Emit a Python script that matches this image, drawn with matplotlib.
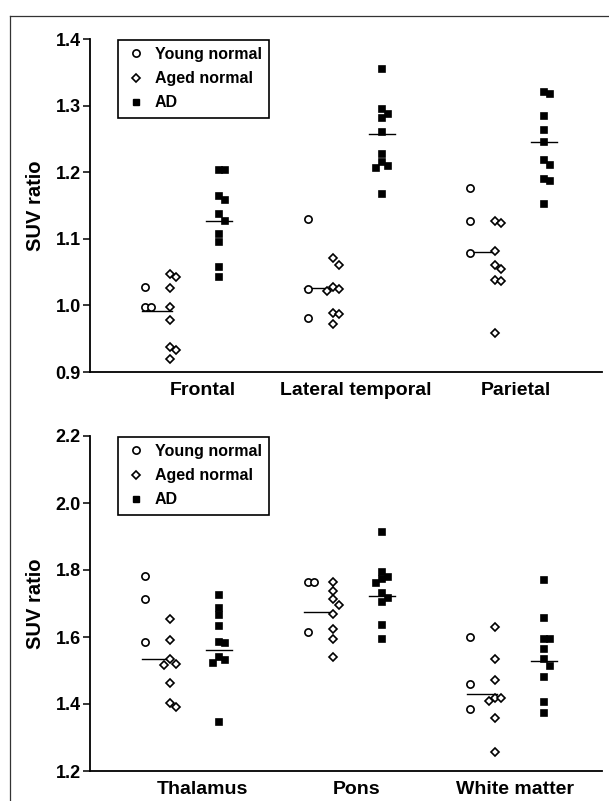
import matplotlib
matplotlib.use('Agg')
import matplotlib.pyplot as plt
from matplotlib.lines import Line2D

plt.rcParams['font.family'] = ['Liberation Sans', 'DejaVu Sans']
plt.rcParams['font.weight'] = 'bold'

# Cortical regions (top panel)
top_regions = ['Frontal', 'Lateral temporal', 'Parietal']
young_top = [[1.028, 0.998, 0.998],
             [1.129, 1.025, 0.981],
             [1.176, 1.126, 1.079]]
aged_top = [[1.047, 1.043, 1.026, 0.998, 0.978, 0.938, 0.933, 0.919],
            [1.071, 1.061, 1.027, 1.025, 1.022, 0.988, 0.987, 0.972],
            [1.127, 1.124, 1.082, 1.061, 1.055, 1.038, 1.036, 0.958]]
ad_top = [[1.203, 1.203, 1.165, 1.159, 1.137, 1.127, 1.107, 1.095, 1.057, 1.042],
          [1.355, 1.295, 1.288, 1.282, 1.261, 1.227, 1.216, 1.209, 1.206, 1.167],
          [1.321, 1.317, 1.285, 1.263, 1.246, 1.219, 1.211, 1.190, 1.187, 1.152]]
normal_line_top = [0.991, 1.026, 1.080]
ad_line_top = [1.126, 1.257, 1.246]

# Reference regions (bottom panel)
bot_regions = ['Thalamus', 'Pons', 'White matter']
young_bot = [[1.782, 1.713, 1.586],
             [1.763, 1.763, 1.616],
             [1.601, 1.460, 1.384]]
aged_bot = [[1.654, 1.591, 1.533, 1.519, 1.516, 1.462, 1.404, 1.392],
            [1.763, 1.737, 1.713, 1.696, 1.668, 1.623, 1.593, 1.541],
            [1.631, 1.534, 1.472, 1.419, 1.419, 1.409, 1.359, 1.256]]
ad_bot = [[1.725, 1.687, 1.666, 1.634, 1.586, 1.583, 1.541, 1.531, 1.521, 1.347],
          [1.914, 1.795, 1.778, 1.772, 1.760, 1.732, 1.717, 1.705, 1.636, 1.594],
          [1.770, 1.658, 1.594, 1.593, 1.564, 1.533, 1.513, 1.481, 1.405, 1.372]]
normal_line_bot = [1.533, 1.675, 1.429]
ad_line_bot = [1.561, 1.722, 1.529]

W, H = 609, 801
PX_PER_UNIT = 162.5          # horizontal pixels per region
AGED_OFF = 25 / PX_PER_UNIT
AD_OFF = 74 / PX_PER_UNIT
LABEL_OFF = [0.355, 0.30, 0.28]


def dodge(values, px_y, step_px=6.0, size_px=7.0):
    # shift markers sideways when they would sit on top of each other
    order = sorted(range(len(values)), key=lambda i: -values[i])
    placed = []
    offs = [0.0] * len(values)
    for i in order:
        for k in [0, 1, -1, 2, -2, 3]:
            if all(not (k == kk and abs(values[i] - v) * px_y < size_px) for kk, v in placed):
                placed.append((k, values[i]))
                offs[i] = k * step_px / PX_PER_UNIT
                break
    return offs


def draw_panel(ax, regions, young, aged, ad, nline, adline, ylim, yticks):
    ax.set_xlim((90 - 145) / PX_PER_UNIT, (602 - 145) / PX_PER_UNIT)
    ax.set_ylim(*ylim)
    px_y = ax.bbox.height / (ylim[1] - ylim[0])
    mk = dict(linestyle='none', markeredgecolor='black', markeredgewidth=1.2, clip_on=False)
    for i in range(len(regions)):
        xs = [i + o for o in dodge(young[i], px_y)]
        ax.plot(xs, young[i], marker='o', markersize=5.2, markerfacecolor='white', zorder=3, **mk)
        xs = [i + AGED_OFF + o for o in dodge(aged[i], px_y)]
        ax.plot(xs, aged[i], marker='D', markersize=4.2, markerfacecolor='white', zorder=3, **mk)
        xs = [i + AD_OFF + o for o in dodge(ad[i], px_y)]
        ax.plot(xs, ad[i], marker='s', markersize=5.0, markerfacecolor='black', zorder=3, **mk)
        ax.plot([i - 0.02, i + AGED_OFF + 0.01], [nline[i]] * 2, color='black', lw=1.0, zorder=2)
        ax.plot([i + AD_OFF - 0.08, i + AD_OFF + 0.08], [adline[i]] * 2, color='black', lw=1.0, zorder=2)

    ax.set_xticks([i + LABEL_OFF[i] for i in range(len(regions))])
    ax.set_xticklabels(regions, fontsize=14, fontweight='bold')
    ax.tick_params(axis='x', length=0, pad=7)
    ax.set_yticks(yticks)
    ax.set_yticklabels(['%.1f' % t for t in yticks], fontsize=13, fontweight='bold')
    ax.tick_params(axis='y', length=5, width=1.1, pad=1.5)
    for s in ['top', 'right']:
        ax.spines[s].set_visible(False)
    for s in ['left', 'bottom']:
        ax.spines[s].set_linewidth(1.3)
    ax.set_ylabel('SUV ratio', fontsize=14.5, fontweight='bold')
    ax.yaxis.set_label_coords(-0.088, 0.5)

    handles = [
        Line2D([], [], linestyle='none', marker='o', markersize=5.2, markerfacecolor='white',
               markeredgecolor='black', markeredgewidth=1.2),
        Line2D([], [], linestyle='none', marker='D', markersize=4.2, markerfacecolor='white',
               markeredgecolor='black', markeredgewidth=1.2),
        Line2D([], [], linestyle='none', marker='s', markersize=5.0, markerfacecolor='black',
               markeredgecolor='black'),
    ]
    leg = ax.legend(handles, ['Young normal', 'Aged normal', 'AD'],
                    loc='upper left', bbox_to_anchor=(28 / 512, 0.998), borderaxespad=0,
                    prop={'size': 11.5, 'weight': 'bold'}, frameon=True, fancybox=False,
                    edgecolor='black', framealpha=1, borderpad=0.45, labelspacing=0.58,
                    handlelength=1.35, handletextpad=0.5)
    leg.get_frame().set_linewidth(1.2)


fig = plt.figure(figsize=(W / 100, H / 100), dpi=100)
ax1 = fig.add_axes([90 / W, 1 - 372 / H, 512 / W, 333 / H])
ax2 = fig.add_axes([90 / W, 1 - 771 / H, 512 / W, 335 / H])

draw_panel(ax1, top_regions, young_top, aged_top, ad_top, normal_line_top, ad_line_top,
           (0.9, 1.4), [0.9, 1.0, 1.1, 1.2, 1.3, 1.4])
draw_panel(ax2, bot_regions, young_bot, aged_bot, ad_bot, normal_line_bot, ad_line_bot,
           (1.2, 2.2), [1.2, 1.4, 1.6, 1.8, 2.0, 2.2])

# scanned frame: left and top edges only
fig.add_artist(Line2D([10 / W, 10 / W], [0, 1 - 16 / H], transform=fig.transFigure,
                      color='#333333', lw=0.9))
fig.add_artist(Line2D([10 / W, 1], [1 - 16 / H, 1 - 16 / H], transform=fig.transFigure,
                      color='#333333', lw=0.9))

fig.savefig('out.png', dpi=100)
